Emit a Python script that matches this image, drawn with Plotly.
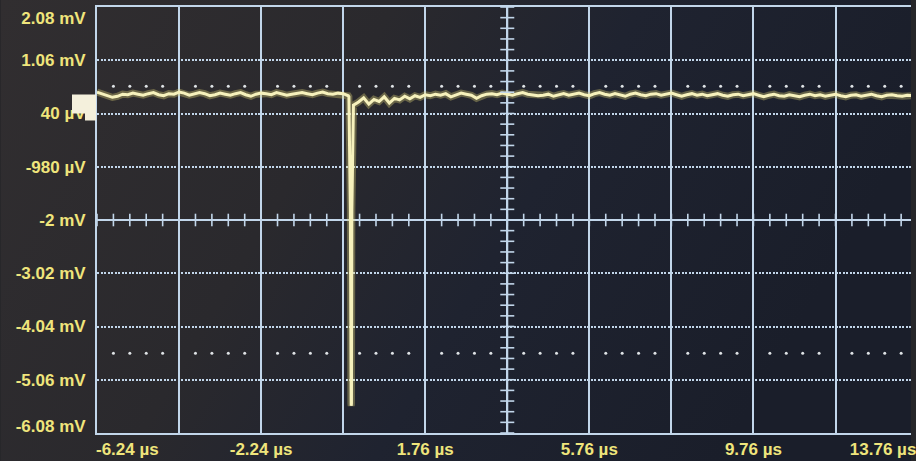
import base64
import numpy as np
import plotly.graph_objects as go

# ---------------- data ----------------
x_labels = ["-6.24 µs", "-2.24 µs", "1.76 µs", "5.76 µs", "9.76 µs", "13.76 µs"]
x_label_pos = [-5.50, -2.24, 1.76, 5.76, 9.76, 12.92]
y_labels = ["2.08 mV", "1.06 mV", "40 µV", "-980 µV", "-2 mV",
            "-3.02 mV", "-4.04 mV", "-5.06 mV", "-6.08 mV"]
y_label_pos = [1.87, 1.06, 0.04, -0.98, -2.0, -3.02, -4.04, -5.06, -5.95]

t_start_us = -6.24
t_per_div_us = 2.0
n_tdiv = 10
v_top_mV = 2.08
v_per_div_mV = 1.02
n_vdiv = 8
t_visible_end_us = 13.60

sample_dt_us = 0.125
baseline_mV = [
    0.45, 0.42, 0.38, 0.35, 0.37, 0.41, 0.40, 0.43, 0.41, 0.39,
    0.42, 0.44, 0.40, 0.38, 0.42, 0.41, 0.45, 0.43, 0.39, 0.41,
    0.44, 0.42, 0.38, 0.40, 0.43, 0.41, 0.39, 0.42, 0.44, 0.40,
    0.37, 0.41, 0.43, 0.42, 0.40, 0.44, 0.42, 0.39, 0.41, 0.43,
    0.44, 0.42, 0.40, 0.43, 0.45, 0.42, 0.41, 0.43, 0.42, 0.38,
    0.30, 0.26, 0.34, 0.22, 0.31, 0.27, 0.36, 0.24, 0.33, 0.30,
    0.37, 0.32, 0.38, 0.35, 0.40, 0.38, 0.41, 0.39, 0.42, 0.36,
    0.40, 0.43, 0.41, 0.39, 0.33, 0.38, 0.41, 0.42, 0.40, 0.43,
    0.41, 0.39, 0.42, 0.44, 0.41, 0.40, 0.38, 0.39, 0.41, 0.37,
    0.40, 0.42, 0.39, 0.41, 0.43, 0.40, 0.38, 0.42, 0.44, 0.41,
    0.39, 0.42, 0.40, 0.37, 0.41, 0.43, 0.40, 0.38, 0.41, 0.42,
    0.39, 0.41, 0.43, 0.40, 0.37, 0.40, 0.42, 0.39, 0.41, 0.38,
    0.40, 0.42, 0.39, 0.37, 0.40, 0.41, 0.38, 0.40, 0.42, 0.39,
    0.36, 0.39, 0.41, 0.38, 0.37, 0.40, 0.38, 0.36, 0.39, 0.41,
    0.38, 0.40, 0.37, 0.39, 0.41, 0.38, 0.36, 0.39, 0.40, 0.37,
    0.39, 0.41, 0.38, 0.36, 0.39, 0.40, 0.38, 0.37, 0.39, 0.38,
]
spike_t_us = [-0.10, -0.065, -0.052, -0.045, -0.038, -0.028, 0.01]
spike_mV = [0.36, -1.80, -5.52, -5.56, -5.52, -1.80, 0.20]
trigger_t_us = 0.0
ref_levels_mV = [0.56, -4.55]
ch_marker_mV = 0.04

# ---------------- build trace ----------------
base_t = [t_start_us + i * sample_dt_us for i in range(len(baseline_mV))]
pts = [(t, v) for t, v in zip(base_t, baseline_mV)
       if not (spike_t_us[0] < t < spike_t_us[-1])]
pts += list(zip(spike_t_us, spike_mV))
pts.sort()
tr_t = [p[0] for p in pts]
tr_v = [p[1] for p in pts]

t_grid = [t_start_us + k * t_per_div_us for k in range(n_tdiv + 1)]
v_grid = [v_top_mV - k * v_per_div_mV for k in range(n_vdiv + 1)]
t_center = t_grid[n_tdiv // 2]
v_center = v_grid[n_vdiv // 2]
v_bottom = v_grid[-1]

grid_c = "#c2d6ea"
label_c = "#efe57c"
font_fam = "Liberation Sans, Arial, sans-serif"

W, H = 916, 461
ml, mr, mt, mb = 97, 0, 7, 28
pw, ph = W - ml - mr, H - mt - mb

fig = go.Figure()

# trace glow + core
fig.add_trace(go.Scatter(x=tr_t, y=tr_v, mode="lines",
                         line=dict(color="rgba(225,215,120,0.35)", width=7),
                         hoverinfo="skip", showlegend=False))
fig.add_trace(go.Scatter(x=tr_t, y=tr_v, mode="lines",
                         line=dict(color="#f6f1bc", width=3),
                         hoverinfo="skip", showlegend=False))

# minor ticks on centre axes
sub_t = np.arange(t_start_us, t_visible_end_us + 1e-9, t_per_div_us / 5)
fig.add_trace(go.Scatter(x=sub_t, y=[v_center] * len(sub_t), mode="markers",
                         marker=dict(symbol="line-ns", size=9,
                                     line=dict(width=1.6, color=grid_c)),
                         hoverinfo="skip", showlegend=False))
sub_v = np.array([v_top_mV - k * v_per_div_mV / 5 for k in range(n_vdiv * 5 + 1)])
fig.add_trace(go.Scatter(x=[t_center] * len(sub_v), y=sub_v, mode="markers",
                         marker=dict(symbol="line-ew", size=10,
                                     line=dict(width=1.6, color=grid_c)),
                         hoverinfo="skip", showlegend=False))

# reference dotted levels
dot_t = [g + k * t_per_div_us / 5 for g in t_grid for k in range(1, 5)
         if g + k * t_per_div_us / 5 < t_visible_end_us]
for lvl in ref_levels_mV:
    fig.add_trace(go.Scatter(x=dot_t, y=[lvl] * len(dot_t), mode="markers",
                             marker=dict(symbol="circle", size=3, color="#dfe3e6"),
                             hoverinfo="skip", showlegend=False))

# trigger marker
fig.add_trace(go.Scatter(x=[trigger_t_us], y=[v_bottom - 0.14], mode="markers",
                         marker=dict(symbol="triangle-up", size=10, color="#f2f2ee"),
                         cliponaxis=False, hoverinfo="skip", showlegend=False))

# centre lines
fig.add_shape(type="line", xref="x", yref="paper", x0=t_center, x1=t_center,
              y0=0, y1=1, line=dict(color=grid_c, width=2), layer="below")
fig.add_shape(type="line", xref="paper", yref="y", x0=0, x1=1,
              y0=v_center, y1=v_center, line=dict(color=grid_c, width=2), layer="below")

# channel marker
fig.add_shape(type="path", xref="paper", yref="y", xsizemode="pixel", ysizemode="pixel",
              xanchor=0, yanchor=ch_marker_mV,
              path="M-25,19 L-1,19 L-1,-7 L-12,-7 L-12,0 L-25,0 Z",
              fillcolor="#f4f0dc", line=dict(width=0), layer="above")

# background gradient
svg = ('<svg xmlns="http://www.w3.org/2000/svg" width="916" height="461">'
       '<defs><linearGradient id="g" x1="0" y1="0" x2="1" y2="0.3">'
       '<stop offset="0" stop-color="#312e30"/>'
       '<stop offset="0.4" stop-color="#2a292d"/>'
       '<stop offset="0.65" stop-color="#1f2330"/>'
       '<stop offset="1" stop-color="#1a1e2a"/>'
       '</linearGradient></defs>'
       '<rect width="916" height="461" fill="url(#g)"/></svg>')
src = "data:image/svg+xml;base64," + base64.b64encode(svg.encode()).decode()
fig.add_layout_image(dict(source=src, xref="paper", yref="paper",
                          x=-ml / pw, y=1 + mt / ph, sizex=W / pw, sizey=H / ph,
                          xanchor="left", yanchor="top", sizing="stretch",
                          layer="below"))

tick_font = dict(family=font_fam, size=17, color=label_c, weight="bold")

fig.update_layout(
    width=W, height=H,
    margin=dict(l=ml, r=mr, t=mt, b=mb, pad=0),
    paper_bgcolor="#262629", plot_bgcolor="rgba(0,0,0,0)",
    showlegend=False,
    xaxis=dict(range=[t_start_us, t_visible_end_us], tickmode="array",
               tickvals=x_label_pos, ticktext=x_labels, tickfont=tick_font,
               ticks="", ticklen=0, showgrid=False, zeroline=False,
               showline=True, mirror=True, linecolor=grid_c, linewidth=2,
               ticklabeloverflow="allow", ticklabelstandoff=0,
               minor=dict(tickmode="array", tickvals=t_grid, showgrid=True,
                          gridcolor=grid_c, gridwidth=1.6, ticks=""),
               fixedrange=True),
    yaxis=dict(range=[v_bottom, v_top_mV], tickmode="array",
               tickvals=y_label_pos, ticktext=y_labels, tickfont=tick_font,
               ticks="", ticklen=0, showgrid=False, zeroline=False,
               showline=True, mirror=False, linecolor=grid_c, linewidth=2,
               ticklabelstandoff=6,
               minor=dict(tickmode="array",
                          tickvals=[v for v in v_grid if v != v_center],
                          showgrid=True, gridcolor=grid_c, gridwidth=1.6,
                          griddash="2px,1.5px", ticks=""),
               fixedrange=True),
)

fig.write_html("out.html")
